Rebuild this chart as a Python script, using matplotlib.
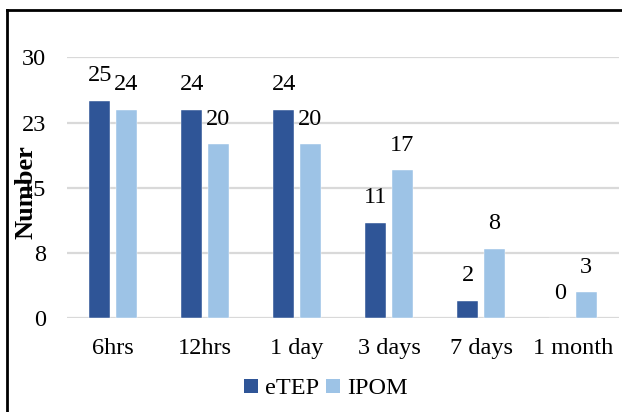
import matplotlib
matplotlib.use("Agg")
import matplotlib.pyplot as plt
from matplotlib.lines import Line2D
from matplotlib.patches import Patch
import numpy as np

categories = ["6hrs", "12hrs", "1 day", "3 days", "7 days", "1 month"]
etep = [25, 24, 24, 11, 2, 0]
ipom = [24, 20, 20, 17, 8, 3]
yticks = [0, 7.5, 15, 22.5, 30]
ytick_labels = ["0", "8", "15", "23", "30"]
series_names = ["eTEP", "IPOM"]

plt.rcParams['font.family'] = ['Liberation Serif', 'DejaVu Serif']

W, H = 622, 412
fig = plt.figure(figsize=(W / 100, H / 100), dpi=100)
ax = fig.add_axes([67 / W, 1 - 318.3 / H, (619 - 67) / W, (318.3 - 57.3) / H])

c_dark = "#2F5597"
c_light = "#9DC3E6"
x = np.arange(len(categories))
bw = 0.23
off = 0.143
b1 = ax.bar(x - off, etep, bw, color=c_dark, edgecolor="white", linewidth=0.3, zorder=3)
b2 = ax.bar(x + off, ipom, bw, color=c_light, edgecolor="white", linewidth=0.3, zorder=3)

fs = 17.5
for bars, vals in ((b1, etep), (b2, ipom)):
    for rect, v in zip(bars, vals):
        ax.annotate(str(v), (rect.get_x() + rect.get_width() / 2, rect.get_height()),
                    xytext=(0, 25 * 0.72), textcoords="offset points",
                    ha="center", va="center", fontsize=fs, color="black", zorder=4)

ax.set_xlim(-0.5, len(categories) - 0.5)
ax.set_ylim(0, 30)
ax.set_yticks(yticks)
ax.set_yticklabels(ytick_labels, fontsize=fs)
ax.set_xticks(x)
ax.set_xticklabels(categories, fontsize=fs)
ax.tick_params(axis="both", length=0)
ax.tick_params(axis="y", pad=15)
ax.tick_params(axis="x", pad=14)
for s in ax.spines.values():
    s.set_visible(False)
ax.yaxis.grid(True, color="#D9D9D9", linewidth=1.6, zorder=0)
ax.set_axisbelow(True)

fig.text(26 / W, 1 - 192 / H, "Number", rotation=90, fontsize=19, fontweight="bold",
         ha="center", va="center")

handles = [Patch(facecolor=c_dark), Patch(facecolor=c_light)]
fig.legend(handles, series_names, loc="center", bbox_to_anchor=(326 / W, 1 - 389 / H),
           ncol=2, frameon=False, fontsize=fs, handlelength=0.55, handleheight=0.55,
           handletextpad=0.3, columnspacing=0.3)

lw = 2.0
fig.add_artist(Line2D([7 / W, 7 / W], [0, 1 - 10 / H], color="black", linewidth=lw,
                      transform=fig.transFigure, solid_capstyle="projecting"))
fig.add_artist(Line2D([7 / W, 1], [1 - 10 / H, 1 - 10 / H], color="black", linewidth=lw,
                      transform=fig.transFigure, solid_capstyle="projecting"))

fig.savefig("out.png", dpi=100, facecolor="white")
